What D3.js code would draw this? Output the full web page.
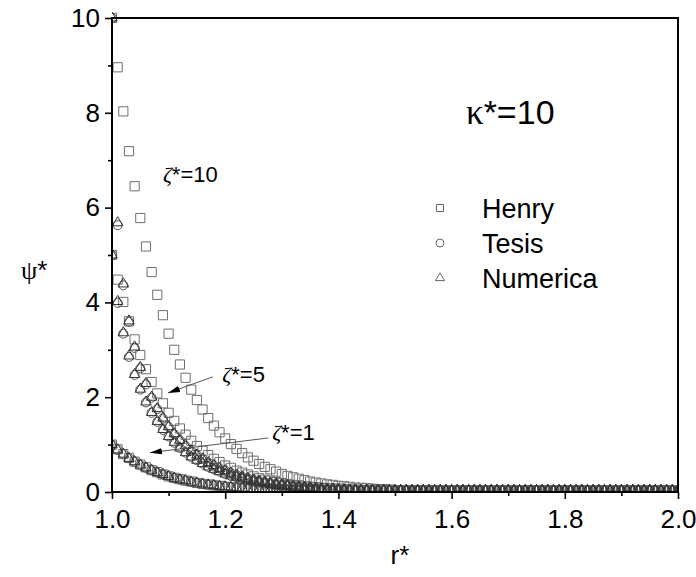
<!DOCTYPE html>
<html>
<head>
<meta charset="utf-8">
<script src="https://cdn.jsdelivr.net/npm/d3@7"></script>
<style>
body { margin: 0; background: #fff; }
svg { display: block; font-family: "Liberation Sans", Arial, sans-serif; }
</style>
</head>
<body>
<div id="chart"></div>
<script>
// radial position r* (one marker every 0.01)
var rVals = [
	1.00, 1.01, 1.02, 1.03, 1.04, 1.05, 1.06, 1.07, 1.08, 1.09,
	1.10, 1.11, 1.12, 1.13, 1.14, 1.15, 1.16, 1.17, 1.18, 1.19,
	1.20, 1.21, 1.22, 1.23, 1.24, 1.25, 1.26, 1.27, 1.28, 1.29,
	1.30, 1.31, 1.32, 1.33, 1.34, 1.35, 1.36, 1.37, 1.38, 1.39,
	1.40, 1.41, 1.42, 1.43, 1.44, 1.45, 1.46, 1.47, 1.48, 1.49,
	1.50, 1.51, 1.52, 1.53, 1.54, 1.55, 1.56, 1.57, 1.58, 1.59,
	1.60, 1.61, 1.62, 1.63, 1.64, 1.65, 1.66, 1.67, 1.68, 1.69,
	1.70, 1.71, 1.72, 1.73, 1.74, 1.75, 1.76, 1.77, 1.78, 1.79,
	1.80, 1.81, 1.82, 1.83, 1.84, 1.85, 1.86, 1.87, 1.88, 1.89,
	1.90, 1.91, 1.92, 1.93, 1.94, 1.95, 1.96, 1.97, 1.98, 1.99,
	2.00
];

// Henry (squares)
var henry10 = [
	10.00, 8.96, 8.03, 7.19, 6.45, 5.78, 5.18, 4.64, 4.16, 3.73,
	3.34, 3.00, 2.69, 2.41, 2.16, 1.94, 1.74, 1.56, 1.40, 1.26,
	1.13, 1.01, 0.91, 0.82, 0.73, 0.66, 0.59, 0.53, 0.48, 0.43,
	0.38, 0.34, 0.31, 0.28, 0.25, 0.22, 0.20, 0.18, 0.16, 0.15,
	0.13, 0.12, 0.11, 0.09, 0.09, 0.08, 0.07, 0.06, 0.06, 0.05,
	0.04, 0.04, 0.04, 0.03, 0.03, 0.03, 0.03, 0.03, 0.03, 0.03,
	0.03, 0.03, 0.03, 0.03, 0.03, 0.03, 0.03, 0.03, 0.03, 0.03,
	0.03, 0.03, 0.03, 0.03, 0.03, 0.03, 0.03, 0.03, 0.03, 0.03,
	0.03, 0.03, 0.03, 0.03, 0.03, 0.03, 0.03, 0.03, 0.03, 0.03,
	0.03, 0.03, 0.03, 0.03, 0.03, 0.03, 0.03, 0.03, 0.03, 0.03,
	0.03
];
var henry5 = [
	5.00, 4.48, 4.01, 3.60, 3.22, 2.89, 2.59, 2.32, 2.08, 1.87,
	1.67, 1.50, 1.34, 1.21, 1.08, 0.97, 0.87, 0.78, 0.70, 0.63,
	0.56, 0.51, 0.45, 0.41, 0.37, 0.33, 0.29, 0.26, 0.24, 0.21,
	0.19, 0.17, 0.15, 0.14, 0.12, 0.11, 0.10, 0.09, 0.08, 0.07,
	0.07, 0.06, 0.05, 0.05, 0.04, 0.04, 0.03, 0.03, 0.03, 0.03,
	0.03, 0.03, 0.03, 0.03, 0.03, 0.03, 0.03, 0.03, 0.03, 0.03,
	0.03, 0.03, 0.03, 0.03, 0.03, 0.03, 0.03, 0.03, 0.03, 0.03,
	0.03, 0.03, 0.03, 0.03, 0.03, 0.03, 0.03, 0.03, 0.03, 0.03,
	0.03, 0.03, 0.03, 0.03, 0.03, 0.03, 0.03, 0.03, 0.03, 0.03,
	0.03, 0.03, 0.03, 0.03, 0.03, 0.03, 0.03, 0.03, 0.03, 0.03,
	0.03
];
var henry1 = [
	1.00, 0.90, 0.80, 0.72, 0.64, 0.58, 0.52, 0.46, 0.42, 0.37,
	0.33, 0.30, 0.27, 0.24, 0.22, 0.19, 0.17, 0.16, 0.14, 0.13,
	0.11, 0.10, 0.09, 0.08, 0.07, 0.07, 0.06, 0.05, 0.05, 0.04,
	0.04, 0.03, 0.03, 0.03, 0.03, 0.03, 0.03, 0.03, 0.03, 0.03,
	0.03, 0.03, 0.03, 0.03, 0.03, 0.03, 0.03, 0.03, 0.03, 0.03,
	0.03, 0.03, 0.03, 0.03, 0.03, 0.03, 0.03, 0.03, 0.03, 0.03,
	0.03, 0.03, 0.03, 0.03, 0.03, 0.03, 0.03, 0.03, 0.03, 0.03,
	0.03, 0.03, 0.03, 0.03, 0.03, 0.03, 0.03, 0.03, 0.03, 0.03,
	0.03, 0.03, 0.03, 0.03, 0.03, 0.03, 0.03, 0.03, 0.03, 0.03,
	0.03, 0.03, 0.03, 0.03, 0.03, 0.03, 0.03, 0.03, 0.03, 0.03,
	0.03
];

// Tesis (circles)
var tesis10 = [
	10.00, 5.63, 4.36, 3.59, 3.04, 2.61, 2.27, 1.99, 1.75, 1.55,
	1.37, 1.22, 1.09, 0.97, 0.87, 0.78, 0.70, 0.62, 0.56, 0.50,
	0.45, 0.40, 0.36, 0.32, 0.29, 0.26, 0.23, 0.21, 0.19, 0.17,
	0.15, 0.14, 0.12, 0.11, 0.10, 0.09, 0.08, 0.07, 0.06, 0.06,
	0.05, 0.05, 0.04, 0.04, 0.03, 0.03, 0.03, 0.03, 0.03, 0.03,
	0.03, 0.03, 0.03, 0.03, 0.03, 0.03, 0.03, 0.03, 0.03, 0.03,
	0.03, 0.03, 0.03, 0.03, 0.03, 0.03, 0.03, 0.03, 0.03, 0.03,
	0.03, 0.03, 0.03, 0.03, 0.03, 0.03, 0.03, 0.03, 0.03, 0.03,
	0.03, 0.03, 0.03, 0.03, 0.03, 0.03, 0.03, 0.03, 0.03, 0.03,
	0.03, 0.03, 0.03, 0.03, 0.03, 0.03, 0.03, 0.03, 0.03, 0.03,
	0.03
];
var tesis5 = [
	5.00, 3.99, 3.34, 2.85, 2.47, 2.16, 1.89, 1.67, 1.48, 1.31,
	1.17, 1.04, 0.93, 0.83, 0.74, 0.67, 0.60, 0.53, 0.48, 0.43,
	0.38, 0.34, 0.31, 0.28, 0.25, 0.22, 0.20, 0.18, 0.16, 0.14,
	0.13, 0.12, 0.10, 0.09, 0.08, 0.08, 0.07, 0.06, 0.06, 0.05,
	0.04, 0.04, 0.04, 0.03, 0.03, 0.03, 0.03, 0.03, 0.03, 0.03,
	0.03, 0.03, 0.03, 0.03, 0.03, 0.03, 0.03, 0.03, 0.03, 0.03,
	0.03, 0.03, 0.03, 0.03, 0.03, 0.03, 0.03, 0.03, 0.03, 0.03,
	0.03, 0.03, 0.03, 0.03, 0.03, 0.03, 0.03, 0.03, 0.03, 0.03,
	0.03, 0.03, 0.03, 0.03, 0.03, 0.03, 0.03, 0.03, 0.03, 0.03,
	0.03, 0.03, 0.03, 0.03, 0.03, 0.03, 0.03, 0.03, 0.03, 0.03,
	0.03
];
var tesis1 = [
	1.00, 0.89, 0.80, 0.71, 0.64, 0.57, 0.51, 0.46, 0.41, 0.37,
	0.33, 0.29, 0.26, 0.24, 0.21, 0.19, 0.17, 0.15, 0.14, 0.12,
	0.11, 0.10, 0.09, 0.08, 0.07, 0.06, 0.06, 0.05, 0.05, 0.04,
	0.04, 0.03, 0.03, 0.03, 0.03, 0.03, 0.03, 0.03, 0.03, 0.03,
	0.03, 0.03, 0.03, 0.03, 0.03, 0.03, 0.03, 0.03, 0.03, 0.03,
	0.03, 0.03, 0.03, 0.03, 0.03, 0.03, 0.03, 0.03, 0.03, 0.03,
	0.03, 0.03, 0.03, 0.03, 0.03, 0.03, 0.03, 0.03, 0.03, 0.03,
	0.03, 0.03, 0.03, 0.03, 0.03, 0.03, 0.03, 0.03, 0.03, 0.03,
	0.03, 0.03, 0.03, 0.03, 0.03, 0.03, 0.03, 0.03, 0.03, 0.03,
	0.03, 0.03, 0.03, 0.03, 0.03, 0.03, 0.03, 0.03, 0.03, 0.03,
	0.03
];

// Numerica (triangles)
var numerica10 = [
	10.00, 5.68, 4.39, 3.61, 3.06, 2.63, 2.29, 2.00, 1.76, 1.56,
	1.38, 1.23, 1.09, 0.98, 0.87, 0.78, 0.70, 0.62, 0.56, 0.50,
	0.45, 0.40, 0.36, 0.32, 0.29, 0.26, 0.23, 0.21, 0.19, 0.17,
	0.15, 0.14, 0.12, 0.11, 0.10, 0.09, 0.08, 0.07, 0.06, 0.06,
	0.05, 0.05, 0.04, 0.04, 0.03, 0.03, 0.03, 0.03, 0.03, 0.03,
	0.03, 0.03, 0.03, 0.03, 0.03, 0.03, 0.03, 0.03, 0.03, 0.03,
	0.03, 0.03, 0.03, 0.03, 0.03, 0.03, 0.03, 0.03, 0.03, 0.03,
	0.03, 0.03, 0.03, 0.03, 0.03, 0.03, 0.03, 0.03, 0.03, 0.03,
	0.03, 0.03, 0.03, 0.03, 0.03, 0.03, 0.03, 0.03, 0.03, 0.03,
	0.03, 0.03, 0.03, 0.03, 0.03, 0.03, 0.03, 0.03, 0.03, 0.03,
	0.03
];
var numerica5 = [
	5.00, 4.02, 3.36, 2.87, 2.48, 2.17, 1.90, 1.68, 1.49, 1.32,
	1.17, 1.05, 0.93, 0.83, 0.74, 0.67, 0.60, 0.53, 0.48, 0.43,
	0.38, 0.34, 0.31, 0.28, 0.25, 0.22, 0.20, 0.18, 0.16, 0.14,
	0.13, 0.12, 0.10, 0.09, 0.08, 0.08, 0.07, 0.06, 0.06, 0.05,
	0.04, 0.04, 0.04, 0.03, 0.03, 0.03, 0.03, 0.03, 0.03, 0.03,
	0.03, 0.03, 0.03, 0.03, 0.03, 0.03, 0.03, 0.03, 0.03, 0.03,
	0.03, 0.03, 0.03, 0.03, 0.03, 0.03, 0.03, 0.03, 0.03, 0.03,
	0.03, 0.03, 0.03, 0.03, 0.03, 0.03, 0.03, 0.03, 0.03, 0.03,
	0.03, 0.03, 0.03, 0.03, 0.03, 0.03, 0.03, 0.03, 0.03, 0.03,
	0.03, 0.03, 0.03, 0.03, 0.03, 0.03, 0.03, 0.03, 0.03, 0.03,
	0.03
];
var numerica1 = [
	1.00, 0.89, 0.80, 0.71, 0.64, 0.57, 0.51, 0.46, 0.41, 0.37,
	0.33, 0.29, 0.26, 0.24, 0.21, 0.19, 0.17, 0.15, 0.14, 0.12,
	0.11, 0.10, 0.09, 0.08, 0.07, 0.06, 0.06, 0.05, 0.05, 0.04,
	0.04, 0.03, 0.03, 0.03, 0.03, 0.03, 0.03, 0.03, 0.03, 0.03,
	0.03, 0.03, 0.03, 0.03, 0.03, 0.03, 0.03, 0.03, 0.03, 0.03,
	0.03, 0.03, 0.03, 0.03, 0.03, 0.03, 0.03, 0.03, 0.03, 0.03,
	0.03, 0.03, 0.03, 0.03, 0.03, 0.03, 0.03, 0.03, 0.03, 0.03,
	0.03, 0.03, 0.03, 0.03, 0.03, 0.03, 0.03, 0.03, 0.03, 0.03,
	0.03, 0.03, 0.03, 0.03, 0.03, 0.03, 0.03, 0.03, 0.03, 0.03,
	0.03, 0.03, 0.03, 0.03, 0.03, 0.03, 0.03, 0.03, 0.03, 0.03,
	0.03
];

// ticks
var xMajor = [1.0, 1.2, 1.4, 1.6, 1.8, 2.0];
var xMinor = [1.1, 1.3, 1.5, 1.7, 1.9];
var yMajor = [0, 2, 4, 6, 8, 10];
var yMinor = [1, 3, 5, 7, 9];

var legendNames = ["Henry", "Tesis", "Numerica"];

// curve labels: text anchor and arrow (data units)
var curveLabels = [
	{ zeta: "10", tx: 1.09, ty: 6.55, arrow: null },
	{ zeta: "5", tx: 1.195, ty: 2.33, arrow: [[1.178, 2.43], [1.099, 2.09]] },
	{ zeta: "1", tx: 1.283, ty: 1.10, arrow: [[1.276, 1.14], [1.067, 0.83]] }
];

var width = 696,
	height = 577,
	LEFT = 112,
	RIGHT = 678,
	TOP = 18,
	BOTTOM = 492;

var svg = d3.select("#chart").append("svg")
	.attr("width", width)
	.attr("height", height);

var x = d3.scaleLinear().domain([1, 2]).range([LEFT, RIGHT]);
var y = d3.scaleLinear().domain([0, 10]).range([BOTTOM, TOP]);

svg.append("defs").append("clipPath")
	.attr("id", "plotclip")
	.append("rect")
	.attr("x", LEFT)
	.attr("y", TOP - 6)
	.attr("width", RIGHT - LEFT)
	.attr("height", BOTTOM - TOP + 6);

svg.select("defs").append("marker")
	.attr("id", "arrowhead")
	.attr("viewBox", "0 0 12 8")
	.attr("refX", 12)
	.attr("refY", 4)
	.attr("markerWidth", 12)
	.attr("markerHeight", 8)
	.attr("markerUnits", "userSpaceOnUse")
	.attr("orient", "auto")
	.append("path")
	.attr("d", "M0,0.8 L12,4 L0,7.2 Z")
	.style("fill", "#000");

var plot = svg.append("g").attr("clip-path", "url(#plotclip)");

var sq = d3.symbol().type(d3.symbolSquare).size(84);
var circ = d3.symbol().type(d3.symbolCircle).size(64);
var tri = d3.symbol().type(d3.symbolTriangle).size(48);

var draw_series = function(values, shape, color) {
	plot.append("g")
		.selectAll("path")
		.data(values)
		.enter()
		.append("path")
		.attr("d", shape)
		.attr("transform", function(d, i) {
			return "translate(" + x(rVals[i]) + "," + y(d) + ")";
		})
		.style("fill", "none")
		.style("stroke", color)
		.style("stroke-width", 1);
};

[henry1, henry5, henry10].forEach(function(s) { draw_series(s, sq, "#6e6e6e"); });
[tesis1, tesis5, tesis10].forEach(function(s) { draw_series(s, circ, "#555"); });
[numerica1, numerica5, numerica10].forEach(function(s) { draw_series(s, tri, "#333"); });

// axes
var style_axis = function(g, size) {
	g.select(".domain").remove();
	g.selectAll(".tick line").style("stroke", "#000").style("stroke-width", 1.6);
	g.selectAll(".tick text")
		.style("font-size", size + "px")
		.style("fill", "#000")
		.style("font-family", "Liberation Sans, Arial, sans-serif");
};

svg.append("g")
	.attr("transform", "translate(0," + BOTTOM + ")")
	.call(d3.axisBottom(x).tickValues(xMajor).tickSize(7).tickSizeOuter(0).tickPadding(11).tickFormat(d3.format(".1f")))
	.call(style_axis, 26);

svg.append("g")
	.attr("transform", "translate(0," + BOTTOM + ")")
	.call(d3.axisBottom(x).tickValues(xMinor).tickSize(4).tickSizeOuter(0).tickFormat(""))
	.call(style_axis, 26);

svg.append("g")
	.attr("transform", "translate(" + LEFT + ",0)")
	.call(d3.axisLeft(y).tickValues(yMajor).tickSize(7).tickSizeOuter(0).tickPadding(5).tickFormat(d3.format("d")))
	.call(style_axis, 26);

svg.append("g")
	.attr("transform", "translate(" + LEFT + ",0)")
	.call(d3.axisLeft(y).tickValues(yMinor).tickSize(4).tickSizeOuter(0).tickFormat(""))
	.call(style_axis, 26);

// frame
svg.append("rect")
	.attr("x", LEFT)
	.attr("y", TOP)
	.attr("width", RIGHT - LEFT)
	.attr("height", BOTTOM - TOP)
	.style("fill", "none")
	.style("stroke", "#000")
	.style("stroke-width", 2);

// axis titles
svg.append("text")
	.attr("x", (LEFT + RIGHT) / 2 + 5)
	.attr("y", 564)
	.style("font-size", "26px")
	.style("text-anchor", "middle")
	.text("r*");

var ylab = svg.append("text")
	.attr("x", 21)
	.attr("y", 279)
	.style("font-size", "26px");
ylab.append("tspan").style("font-family", "Liberation Serif, serif").text("ψ");
ylab.append("tspan").text("*");

// kappa note
var kap = svg.append("text")
	.attr("x", 466)
	.attr("y", 124)
	.style("font-size", "34px");
kap.append("tspan").style("font-family", "Liberation Serif, serif").style("font-size", "35px").text("κ");
kap.append("tspan").text("*=10");

// legend
var legendSmall = [
	d3.symbol().type(d3.symbolSquare).size(50),
	d3.symbol().type(d3.symbolCircle).size(50),
	d3.symbol().type(d3.symbolTriangle).size(36)
];

var legend = svg.append("g").attr("id", "legend");

legend.selectAll(".item")
	.data(legendNames)
	.enter()
	.append("g")
	.attr("transform", function(d, i) {
		return "translate(0," + (208 + i * 35) + ")";
	})
	.each(function(d, i) {
		var g = d3.select(this);
		g.append("path")
			.attr("d", legendSmall[i])
			.attr("transform", "translate(440,0)")
			.style("fill", "none")
			.style("stroke", "#666")
			.style("stroke-width", 1);
		g.append("text")
			.attr("x", 482)
			.attr("y", 10)
			.style("font-size", "27px")
			.text(d);
	});

// curve labels with arrows
curveLabels.forEach(function(c) {
	var t = svg.append("text")
		.attr("x", x(c.tx))
		.attr("y", y(c.ty))
		.style("font-size", "22px");
	t.append("tspan").style("font-family", "Liberation Serif, serif").style("font-style", "italic").text("ζ");
	t.append("tspan").text("*=" + c.zeta);

	if (c.arrow) {
		svg.append("line")
			.attr("x1", x(c.arrow[0][0]))
			.attr("y1", y(c.arrow[0][1]))
			.attr("x2", x(c.arrow[1][0]))
			.attr("y2", y(c.arrow[1][1]))
			.style("stroke", "#555")
			.style("stroke-width", 1)
			.attr("marker-end", "url(#arrowhead)");
	}
});
</script>
</body>
</html>
